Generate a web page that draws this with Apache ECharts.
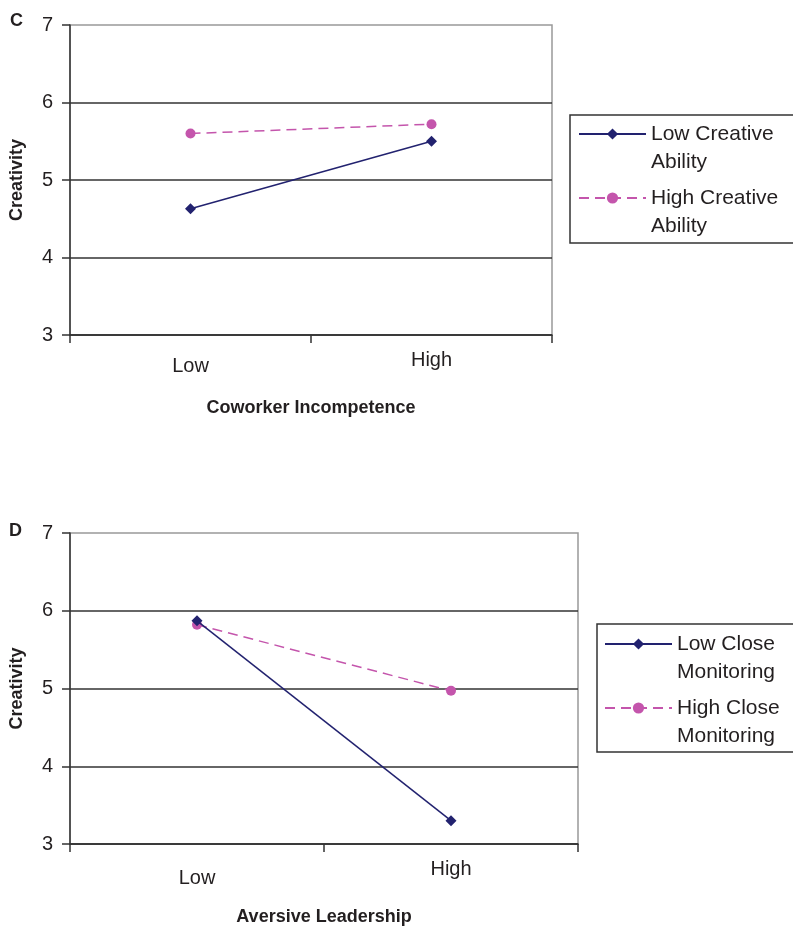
<!DOCTYPE html>
<html>
<head>
<meta charset="utf-8">
<script src="https://cdn.jsdelivr.net/npm/echarts@6/dist/echarts.min.js"></script>
<style>
  html, body { margin: 0; padding: 0; background: #fff; }
  #main { width: 793px; height: 946px; }
</style>
</head>
<body>
<div id="main"></div>
<script>
// data
var levels = ['Low', 'High'];
var yTicks = [3, 4, 5, 6, 7];

var lowCreative = [4.63, 5.5];
var highCreative = [5.6, 5.72];
var lowMonitoring = [5.87, 3.3];
var highMonitoring = [5.82, 4.97];

var navy = '#22226f';
var pink = '#c455ac';
var ink = '#231f20';
var font = '"Liberation Sans", Arial, sans-serif';

(function () {
  var myChart = echarts.init(document.getElementById('main'))

  function xAxisFor(idx, name, lowPad) {
    return {
      type: 'category',
      gridIndex: idx,
      data: levels,
      boundaryGap: true,
      name: name,
      nameLocation: 'middle',
      nameGap: 64,
      nameTextStyle: { fontFamily: font, fontSize: 18, fontWeight: 'bold', color: ink },
      axisLine: { lineStyle: { color: '#333', width: 1.5 } },
      axisTick: { show: true, length: 8, lineStyle: { color: '#333', width: 1.5 } },
      axisLabel: {
        margin: 15,
        fontFamily: font, fontSize: 20, color: ink,
        formatter: function (v) { return v === 'Low' ? '{lo|Low}' : '{hi|High}' },
        rich: {
          lo: { fontFamily: font, fontSize: 20, color: ink, padding: [lowPad, 0, 0, 0] },
          hi: { fontFamily: font, fontSize: 20, color: ink }
        }
      },
      splitLine: { show: false }
    }
  }

  function yAxisFor(idx) {
    return {
      type: 'value',
      gridIndex: idx,
      min: yTicks[0],
      max: yTicks[yTicks.length - 1],
      interval: 1,
      name: 'Creativity',
      nameLocation: 'middle',
      nameGap: 44,
      nameTextStyle: { fontFamily: font, fontSize: 18, fontWeight: 'bold', color: ink },
      axisLine: { show: true, lineStyle: { color: '#333', width: 1.5 } },
      axisTick: { show: true, length: 8, lineStyle: { color: '#333', width: 1.5 } },
      axisLabel: { margin: 17, fontFamily: font, fontSize: 20, color: ink },
      splitLine: {
        show: true,
        showMaxLine: false,
        lineStyle: { color: '#333', width: 1.5 }
      }
    }
  }

  function lineSeries(name, data, idx, solid) {
    return {
      name: name,
      type: 'line',
      xAxisIndex: idx,
      yAxisIndex: idx,
      data: data,
      symbol: solid ? 'diamond' : 'circle',
      symbolSize: solid ? [11, 11] : 10,
      showSymbol: true,
      color: solid ? navy : pink,
      itemStyle: { color: solid ? navy : pink },
      lineStyle: { color: solid ? navy : pink, width: 1.5, type: solid ? 'solid' : [10, 6] },
      emphasis: { disabled: true },
      z: solid ? 3 : 2
    }
  }

  // the icon sits on the first text line: a blank leading line centres it there
  function legendFor(names, left, iconCenterY) {
    return {
      orient: 'vertical',
      left: left,
      top: iconCenterY - 42,
      padding: 0,
      itemWidth: 67,
      itemHeight: 14,
      itemGap: -20,
      data: names,
      selectedMode: false,
      formatter: function (n) {
        var parts = n.split(' ')
        return '\n' + parts.slice(0, 2).join(' ') + '\n' + parts.slice(2).join(' ')
      },
      textStyle: {
        fontFamily: font, fontSize: 21, color: ink,
        lineHeight: 28
      }
    }
  }

  var option = {
    animation: false,
    backgroundColor: '#fff',
    title: [
      { text: 'C', left: 5, top: 7, textStyle: { fontFamily: font, fontSize: 18, fontWeight: 'bold', color: ink } },
      { text: 'D', left: 4, top: 517, textStyle: { fontFamily: font, fontSize: 18, fontWeight: 'bold', color: ink } }
    ],
    grid: [
      { left: 70, top: 25, width: 482, height: 310, show: true, borderColor: '#999', borderWidth: 1.5, backgroundColor: 'transparent' },
      { left: 70, top: 533, width: 508, height: 311, show: true, borderColor: '#999', borderWidth: 1.5, backgroundColor: 'transparent' }
    ],
    xAxis: [
      xAxisFor(0, 'Coworker Incompetence', 6),
      xAxisFor(1, 'Aversive Leadership', 9)
    ],
    yAxis: [yAxisFor(0), yAxisFor(1)],
    legend: [
      legendFor(['Low Creative Ability', 'High Creative Ability'], 578, 134),
      legendFor(['Low Close Monitoring', 'High Close Monitoring'], 604, 644)
    ],
    graphic: [
      { type: 'rect', shape: { x: 570, y: 115, width: 240, height: 128 }, style: { fill: 'none', stroke: '#333', lineWidth: 1.5 }, silent: true },
      { type: 'rect', shape: { x: 597, y: 624, width: 220, height: 128 }, style: { fill: 'none', stroke: '#333', lineWidth: 1.5 }, silent: true }
    ],
    series: [
      lineSeries('Low Creative Ability', lowCreative, 0, true),
      lineSeries('High Creative Ability', highCreative, 0, false),
      lineSeries('Low Close Monitoring', lowMonitoring, 1, true),
      lineSeries('High Close Monitoring', highMonitoring, 1, false)
    ]
  }

  myChart.setOption(option)
})();
</script>
</body>
</html>
